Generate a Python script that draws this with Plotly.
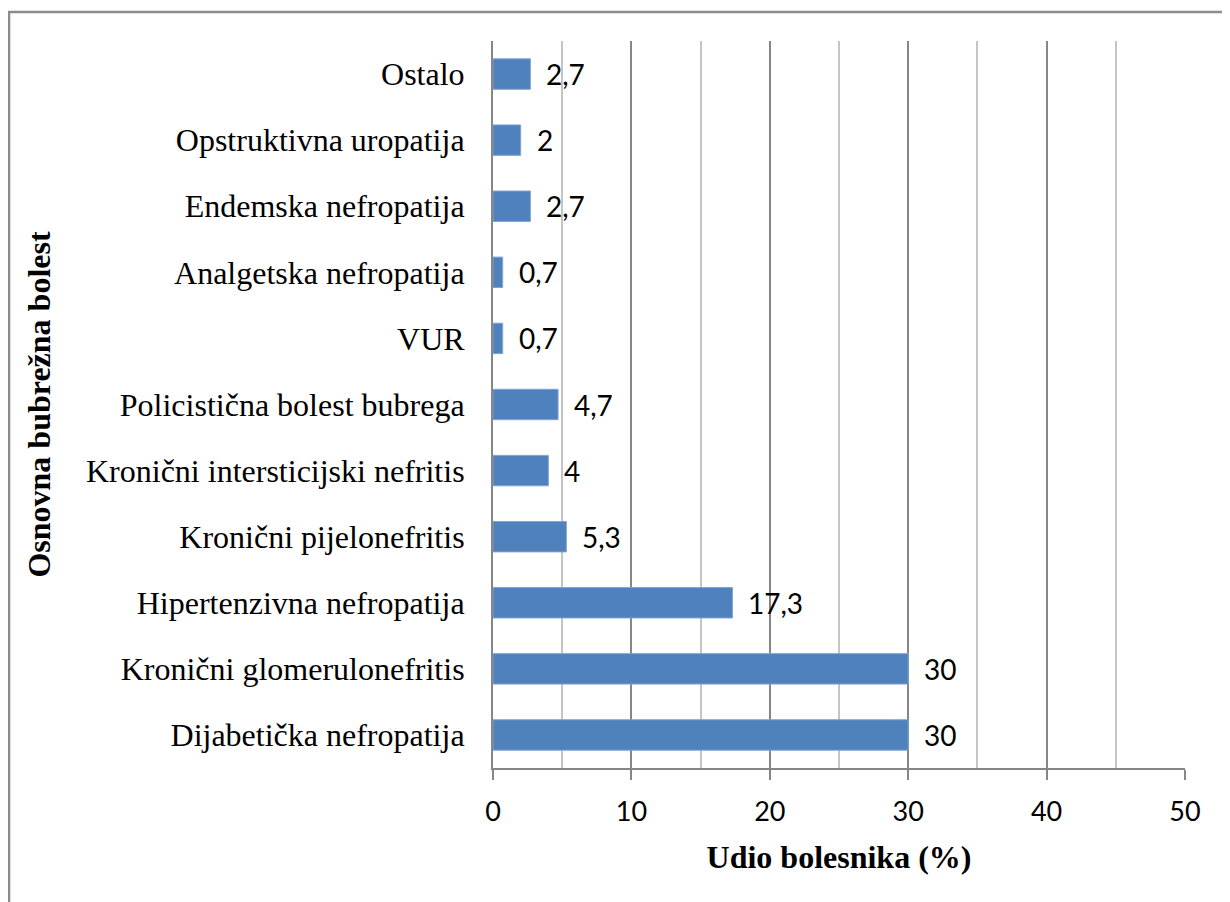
import plotly.graph_objects as go

categories = [
    "Dijabetička nefropatija",
    "Kronični glomerulonefritis",
    "Hipertenzivna nefropatija",
    "Kronični pijelonefritis",
    "Kronični intersticijski nefritis",
    "Policistična bolest bubrega",
    "VUR",
    "Analgetska nefropatija",
    "Endemska nefropatija",
    "Opstruktivna uropatija",
    "Ostalo",
]
values = [30, 30, 17.3, 5.3, 4, 4.7, 0.7, 0.7, 2.7, 2, 2.7]
x_ticks = [0, 10, 20, 30, 40, 50]


def fmt(v):
    s = ("%g" % v)
    return s.replace(".", ",")


labels = [fmt(v) for v in values]

W, H = 1230, 902
OFF = 8  # page body margin offset
L, R, T, B = 493 - OFF, 1185 - OFF, 41 - OFF, 768 - OFF

fig = go.Figure()
fig.add_trace(go.Bar(
    x=values,
    y=categories,
    orientation="h",
    marker=dict(color="#4F81BD", line=dict(color="#7FA3D3", width=1)),
    hoverinfo="skip",
))

for v, c, lab in zip(values, categories, labels):
    fig.add_annotation(
        x=v, y=c, text=lab, showarrow=False, xanchor="left", yanchor="middle",
        xshift=14, font=dict(family="Lato", size=28, color="#000000"),
    )

def px_x(p):
    return (p - OFF - L) / (R - L)

def px_y(p):
    return (B - (p - OFF)) / (B - T)

dark = "#8C8C8C"
light = "#D4D4D4"
fig.add_shape(type="line", xref="paper", yref="paper",
              x0=px_x(8), x1=px_x(1229), y0=px_y(12), y1=px_y(12),
              line=dict(color=dark, width=2.5))
fig.add_shape(type="line", xref="paper", yref="paper",
              x0=px_x(9), x1=px_x(9), y0=px_y(12), y1=px_y(920),
              line=dict(color=dark, width=2.5))
fig.add_shape(type="line", xref="paper", yref="paper",
              x0=px_x(1229), x1=px_x(1229), y0=px_y(12), y1=px_y(920),
              line=dict(color=light, width=2))

fig.update_layout(
    width=W, height=H,
    margin=dict(l=L, r=W - R, t=T, b=H - B),
    paper_bgcolor="white", plot_bgcolor="white",
    showlegend=False,
    bargap=0.54,
    font=dict(family="Liberation Serif", color="#000000"),
)

fig.update_xaxes(
    range=[0, 50],
    tickvals=x_ticks,
    ticktext=[str(t) for t in x_ticks],
    showgrid=True, gridcolor="#868686", gridwidth=1.5,
    minor=dict(dtick=5, tick0=0, showgrid=True, gridcolor="#C4C4C4", gridwidth=1.5, ticks=""),
    showline=True, linecolor="#868686", linewidth=2,
    ticks="outside", ticklen=10, tickwidth=2, tickcolor="#868686",
    tickfont=dict(family="Lato", size=27, color="#000000"),
    ticklabelstandoff=9,
    zeroline=False,
    title=dict(text="<b>Udio bolesnika (%)</b>",
               font=dict(family="Liberation Serif", size=32, color="#000000"),
               standoff=19),
    fixedrange=True,
)

fig.update_yaxes(
    type="category",
    categoryorder="array", categoryarray=categories,
    showgrid=False,
    showline=True, linecolor="#868686", linewidth=2,
    ticks="",
    tickfont=dict(family="Liberation Serif", size=32, color="#000000"),
    ticklabelstandoff=20,
    title=dict(text="<b>Osnovna bubrežna bolest</b>",
               font=dict(family="Liberation Serif", size=32, color="#000000"),
               standoff=26),
    fixedrange=True,
)

fig.write_html("out.html")
